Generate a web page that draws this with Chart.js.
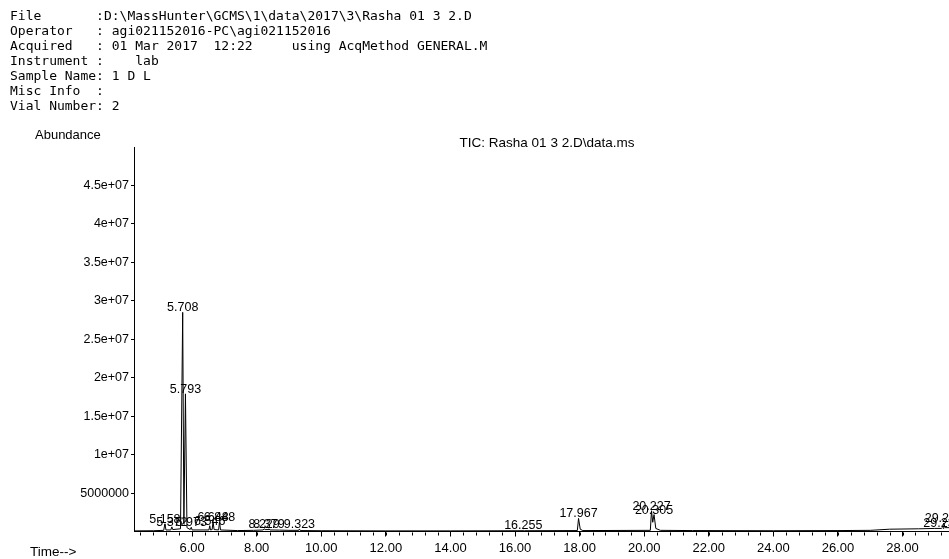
<!DOCTYPE html>
<html>
<head>
<meta charset="utf-8">
<script src="https://cdn.jsdelivr.net/npm/chart.js@4.4.1/dist/chart.umd.min.js"></script>
<style>
  html, body { margin: 0; padding: 0; background: #fff; }
  #wrap { position: relative; width: 949px; height: 559px; overflow: hidden; }
  canvas { display: block; }
</style>
</head>
<body>
<div id="wrap"><canvas id="c" width="949" height="559"></canvas></div>
<script>
// ---- header text ----
const headerLines = [
  "File       :D:\\MassHunter\\GCMS\\1\\data\\2017\\3\\Rasha 01 3 2.D",
  "Operator   : agi021152016-PC\\agi021152016",
  "Acquired   : 01 Mar 2017  12:22     using AcqMethod GENERAL.M",
  "Instrument :    lab",
  "Sample Name: 1 D L",
  "Misc Info  :",
  "Vial Number: 2"
];
const chartTitle = "TIC: Rasha 01 3 2.D\\data.ms";
const yAxisTitle = "Abundance";
const xAxisTitle = "Time-->";

// ---- trace (retention time in min, abundance) ----
const traceTime = [4.20, 4.80, 5.12, 5.158, 5.19, 5.34, 5.372, 5.40, 5.64, 5.708, 5.745, 5.793, 5.84, 5.94, 5.973, 6.00,
  6.52, 6.546, 6.57, 6.62, 6.648, 6.68, 6.82, 6.848, 6.88, 7.40, 7.90, 8.20, 8.229, 8.26, 8.35, 8.379, 8.41, 8.70, 9.00,
  9.30, 9.323, 9.35, 10.00, 12.00, 14.00, 16.22, 16.255, 16.29, 17.93, 17.967, 18.02, 18.10, 20.19, 20.227, 20.265,
  20.305, 20.36, 20.50, 21.50, 24.00, 26.00, 27.00, 27.60, 28.50, 29.00, 29.20, 29.236, 29.26, 29.279, 29.32, 29.44];
const traceAbundance = [0.08e6, 0.10e6, 0.15e6, 1.0e6, 0.2e6, 0.2e6, 0.6e6, 0.25e6, 0.35e6, 28.5e6, 1.0e6, 17.9e6, 0.5e6, 0.25e6, 0.55e6, 0.2e6,
  0.2e6, 0.75e6, 0.2e6, 0.25e6, 1.3e6, 0.25e6, 0.2e6, 1.25e6, 0.2e6, 0.12e6, 0.15e6, 0.2e6, 0.35e6, 0.25e6, 0.25e6, 0.35e6, 0.2e6, 0.18e6, 0.15e6,
  0.15e6, 0.33e6, 0.12e6, 0.1e6, 0.08e6, 0.08e6, 0.1e6, 0.15e6, 0.1e6, 0.12e6, 1.7e6, 0.3e6, 0.12e6, 0.15e6, 2.7e6, 1.2e6,
  2.2e6, 0.4e6, 0.15e6, 0.12e6, 0.1e6, 0.12e6, 0.15e6, 0.3e6, 0.35e6, 0.4e6, 0.4e6, 0.5e6, 0.4e6, 1.1e6, 0.5e6, 0.5e6];

// ---- labelled peaks ----
const peakTimes   = [5.158, 5.372, 5.708, 5.793, 5.973, 6.546, 6.648, 6.848, 8.229, 8.379, 9.323, 16.255, 17.967, 20.227, 20.305, 29.236, 29.279];
const peakLabels  = ["5.158", "5.372", "5.708", "5.793", "5.973", "6.546", "6.648", "6.848", "8.229", "8.379", "9.323", "16.255", "17.967", "20.227", "20.305", "29.236", "29.279"];
const peakHeights = [1.0e6, 0.6e6, 28.5e6, 17.9e6, 0.55e6, 0.75e6, 1.3e6, 1.25e6, 0.35e6, 0.35e6, 0.33e6, 0.15e6, 1.7e6, 2.7e6, 2.2e6, 0.5e6, 1.1e6];

// ---- axis ticks ----
const xTickValues = [6, 8, 10, 12, 14, 16, 18, 20, 22, 24, 26, 28];
const xTickLabels = ["6.00", "8.00", "10.00", "12.00", "14.00", "16.00", "18.00", "20.00", "22.00", "24.00", "26.00", "28.00"];
const yTickValues = [5e6, 1e7, 1.5e7, 2e7, 2.5e7, 3e7, 3.5e7, 4e7, 4.5e7];
const yTickLabels = ["5000000", "1e+07", "1.5e+07", "2e+07", "2.5e+07", "3e+07", "3.5e+07", "4e+07", "4.5e+07"];
const xMinorStep = 0.4;

const SANS = "'Liberation Sans', Arial, sans-serif";
const MONO = "'DejaVu Sans Mono', monospace";

const textPlugin = {
  id: 'extraText',
  afterDraw(chart) {
    const ctx = chart.ctx;
    const xs = chart.scales.x, ys = chart.scales.y;
    ctx.save();
    // header
    ctx.fillStyle = '#000';
    ctx.font = "13px " + MONO;
    ctx.textAlign = 'left';
    ctx.textBaseline = 'alphabetic';
    headerLines.forEach((l, i) => ctx.fillText(l, 10, 20 + i * 15));
    // axis titles and chart title
    ctx.font = "13px " + SANS;
    ctx.fillText(yAxisTitle, 35, 139);
    ctx.font = "13.5px " + SANS;
    ctx.fillText(xAxisTitle, 30, 556);
    ctx.textAlign = 'center';
    ctx.fillText(chartTitle, 547, 147);
    // minor x ticks
    ctx.strokeStyle = '#000';
    ctx.lineWidth = 1;
    ctx.beginPath();
    const yb = Math.round(chart.chartArea.bottom) + 0.5;
    for (let k = Math.ceil(xs.min / xMinorStep); k * xMinorStep <= xs.max; k++) {
      const v = k * xMinorStep;
      const px = Math.round(xs.getPixelForValue(v)) + 0.5;
      ctx.moveTo(px, yb);
      ctx.lineTo(px, yb + 3);
    }
    ctx.stroke();
    // peak labels
    ctx.font = "12.5px " + SANS;
    ctx.textAlign = 'center';
    ctx.textBaseline = 'alphabetic';
    peakTimes.forEach((t, i) => {
      const px = xs.getPixelForValue(t);
      const py = ys.getPixelForValue(peakHeights[i]) - 1;
      ctx.fillText(peakLabels[i], px, py);
    });
    ctx.restore();
  }
};

new Chart(document.getElementById('c'), {
  type: 'line',
  data: {
    datasets: [{
      data: traceTime.map((t, i) => ({ x: t, y: traceAbundance[i] })),
      borderColor: '#000',
      borderWidth: 1,
      pointRadius: 0,
      tension: 0,
      fill: false
    }]
  },
  options: {
    responsive: false,
    animation: false,
    devicePixelRatio: 1,
    layout: { padding: { top: 147, left: 0, right: 0, bottom: 0 } },
    plugins: { legend: { display: false }, title: { display: false }, tooltip: { enabled: false } },
    scales: {
      x: {
        type: 'linear',
        min: 4.20,
        max: 29.44,
        afterFit(s) { s.height = 27.5; },
        afterBuildTicks(s) { s.ticks = xTickValues.map(v => ({ value: v })); },
        grid: { drawOnChartArea: false, drawTicks: true, tickLength: 5, color: '#000' },
        border: { display: true, color: '#000', width: 1 },
        ticks: {
          color: '#000', font: { family: SANS, size: 13 }, padding: 4,
          maxRotation: 0, autoSkip: false,
          callback: (v, i) => xTickLabels[i]
        }
      },
      y: {
        min: 0,
        max: 5e7,
        afterFit(s) { s.width = 134; },
        afterBuildTicks(s) { s.ticks = yTickValues.map(v => ({ value: v })); },
        grid: { drawOnChartArea: false, drawTicks: true, tickLength: 3, color: '#000' },
        border: { display: true, color: '#000', width: 1 },
        ticks: {
          color: '#000', font: { family: SANS, size: 12.5 }, padding: 2,
          autoSkip: false,
          callback: (v, i) => yTickLabels[i]
        }
      }
    }
  },
  plugins: [textPlugin]
});
</script>
</body>
</html>
